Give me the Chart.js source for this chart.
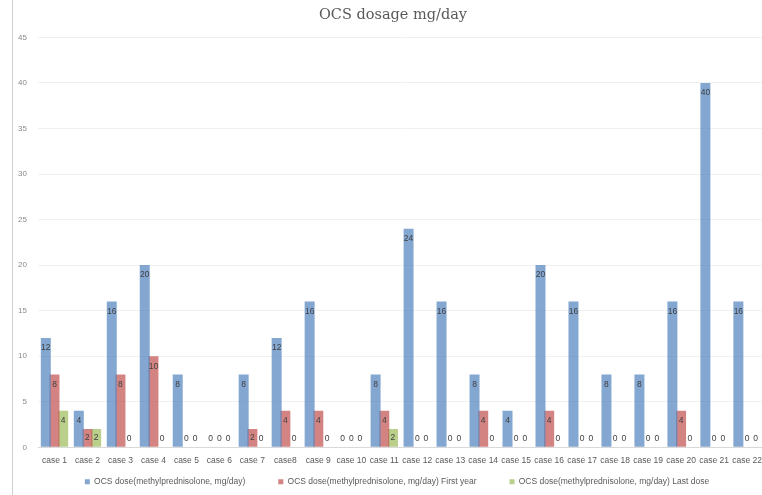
<!DOCTYPE html>
<html>
<head>
<meta charset="utf-8">
<script src="https://cdn.jsdelivr.net/npm/chart.js@4"></script>
<style>
  html, body { margin: 0; padding: 0; background: #fff; overflow: hidden; }
  #frame { position: absolute; left: 12px; top: 0; width: 0; height: 495px; border-left: 1px solid #d0d0d0; }
  #wrap { position: absolute; left: 0; top: 0; width: 770px; height: 495px; }
</style>
</head>
<body>
<div id="frame"></div>
<div id="wrap"><canvas id="chart"></canvas></div>
<script>
    'use strict';

    var cases = ['case 1', 'case 2', 'case 3', 'case 4', 'case 5', 'case 6', 'case 7', 'case8', 'case 9', 'case 10', 'case 11',
        'case 12', 'case 13', 'case 14', 'case 15', 'case 16', 'case 17', 'case 18', 'case 19', 'case 20', 'case 21', 'case 22'];
    var doseValues = [12, 4, 16, 20, 8, 0, 8, 12, 16, 0, 8, 24, 16, 8, 4, 20, 16, 8, 8, 16, 40, 16];
    var firstYearValues = [8, 2, 8, 10, 0, 0, 2, 4, 4, 0, 4, 0, 0, 4, 0, 4, 0, 0, 0, 4, 0, 0];
    var lastDoseValues = [4, 2, 0, 0, 0, 0, 0, 0, 0, 0, 2, 0, 0, 0, 0, 0, 0, 0, 0, 0, 0, 0];

    var textColor = '#595959';
    var bottomPad = -30;
    var legendLiftPx = 29;

    // value labels inside the top of each bar, zeros sit on the baseline
    var valueLabels = {
        id: 'valueLabels',
        afterDatasetsDraw: function(chart) {
            var ctx = chart.ctx;
            ctx.save();
            ctx.font = '8.5px "Liberation Sans", sans-serif';
            ctx.fillStyle = '#404040';
            ctx.textAlign = 'center';
            ctx.textBaseline = 'middle';
            chart.data.datasets.forEach(function(ds, i) {
                chart.getDatasetMeta(i).data.forEach(function(bar, j) {
                    var y = Math.min(bar.y + 10, bar.base - 9);
                    ctx.fillText(String(ds.data[j]), bar.x, y);
                });
            });
            ctx.restore();
        }
    };

    // legend keeps wide gaps but sits close under the axis; title and legend
    // are centred a little right of the plot, like the original
    var nudgeBoxes = {
        id: 'nudgeBoxes',
        afterLayout: function(chart) {
            if (chart.legend) {
                chart.legend.top -= legendLiftPx;
                chart.legend.bottom -= legendLiftPx;
                chart.legend.left += 13.5;
                chart.legend.right += 13.5;
            }
            if (chart.titleBlock) {
                chart.titleBlock.left += 9.5;
                chart.titleBlock.right += 9.5;
            }
        }
    };

    new Chart(document.getElementById('chart'), {
        type: 'bar',
        data: {
            labels: cases,
            datasets: [
                {
                    label: 'OCS dose(methylprednisolone, mg/day)',
                    data: doseValues,
                    backgroundColor: 'rgba(79, 129, 189, 0.7)'
                },
                {
                    label: 'OCS dose(methylprednisolone, mg/day) First year',
                    data: firstYearValues,
                    backgroundColor: 'rgba(192, 80, 77, 0.7)'
                },
                {
                    label: 'OCS dose(methylprednisolone, mg/day) Last dose',
                    data: lastDoseValues,
                    backgroundColor: 'rgba(155, 187, 89, 0.7)'
                }
            ]
        },
        options: {
            responsive: true,
            maintainAspectRatio: false,
            animation: false,
            datasets: {
                bar: { categoryPercentage: 0.79, barPercentage: 1.15 }
            },
            layout: { padding: { left: 0, right: 3, top: 7, bottom: bottomPad } },
            plugins: {
                title: {
                    display: true,
                    text: 'OCS dosage mg/day',
                    color: textColor,
                    font: { family: '"DejaVu Serif", serif', size: 14.5, weight: 'normal' },
                    padding: { top: 0, bottom: 13 }
                },
                legend: {
                    position: 'bottom',
                    labels: {
                        color: textColor,
                        font: { family: '"Liberation Sans", sans-serif', size: 8.5 },
                        boxWidth: 5,
                        boxHeight: 5,
                        padding: 33
                    }
                },
                tooltip: { enabled: false }
            },
            scales: {
                x: {
                    grid: { display: false, drawTicks: false },
                    border: { color: '#d9d9d9' },
                    ticks: {
                        color: textColor,
                        font: { family: '"Liberation Sans", sans-serif', size: 8.5 },
                        maxRotation: 0,
                        autoSkip: false,
                        padding: 8
                    }
                },
                y: {
                    min: 0,
                    max: 45,
                    afterFit: function(scale) { scale.width = 38; },
                    grid: { color: '#f0f0f0', drawTicks: false },
                    border: { display: false },
                    ticks: {
                        stepSize: 5,
                        color: '#8a8a8a',
                        font: { family: '"Liberation Sans", sans-serif', size: 8 },
                        padding: 11
                    }
                }
            }
        },
        plugins: [valueLabels, nudgeBoxes]
    });
</script>
</body>
</html>
